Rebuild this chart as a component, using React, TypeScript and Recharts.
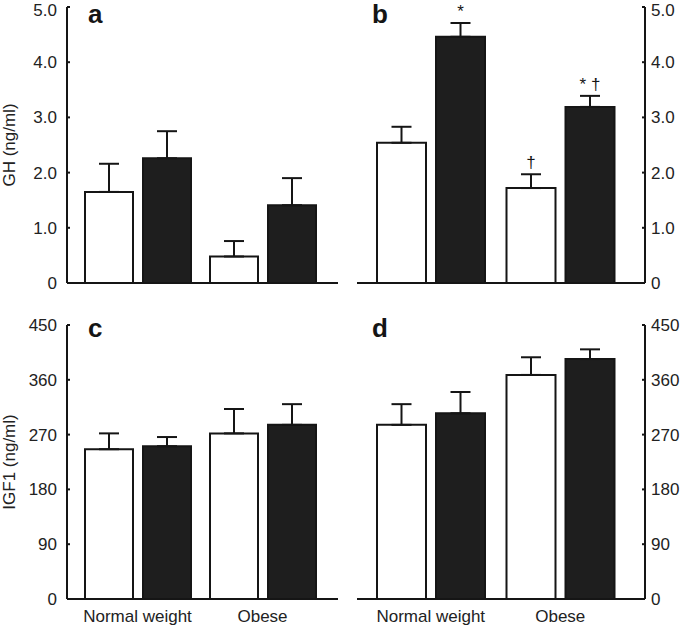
import React from 'react';
import { BarChart, Bar, XAxis, YAxis, ErrorBar, LabelList } from 'recharts';

// ---------- data ----------
const groups = ['Normal weight', 'Obese'];

// panel a: GH (ng/ml)
const ghA_open = [1.65, 0.48];
const ghA_openErr = [0.51, 0.28];
const ghA_filled = [2.26, 1.41];
const ghA_filledErr = [0.49, 0.49];

// panel b: GH (ng/ml)
const ghB_open = [2.54, 1.72];
const ghB_openErr = [0.29, 0.25];
const ghB_filled = [4.46, 3.19];
const ghB_filledErr = [0.25, 0.2];
const ghB_openNotes = ['', '†'];
const ghB_filledNotes = ['*', '* †'];

// panel c: IGF1 (ng/ml)
const igfC_open = [246, 272];
const igfC_openErr = [26, 40];
const igfC_filled = [251, 286];
const igfC_filledErr = [15, 34];

// panel d: IGF1 (ng/ml)
const igfD_open = [286, 368];
const igfD_openErr = [34, 29];
const igfD_filled = [305, 394];
const igfD_filledErr = [35, 16];

const ghTicks = [0, 1, 2, 3, 4, 5];
const igfTicks = [0, 90, 180, 270, 360, 450];

const noNotes = ['', ''];

function buildRows(open: number[], openErr: number[], filled: number[], filledErr: number[], openNotes: string[], filledNotes: string[]) {
  return groups.map((g, i) => ({
    group: g,
    open: open[i],
    openErr: [0, openErr[i]],
    filled: filled[i],
    filledErr: [0, filledErr[i]],
    openNote: openNotes[i],
    filledNote: filledNotes[i],
  }));
}

const rowsA = buildRows(ghA_open, ghA_openErr, ghA_filled, ghA_filledErr, noNotes, noNotes);
const rowsB = buildRows(ghB_open, ghB_openErr, ghB_filled, ghB_filledErr, ghB_openNotes, ghB_filledNotes);
const rowsC = buildRows(igfC_open, igfC_openErr, igfC_filled, igfC_filledErr, noNotes, noNotes);
const rowsD = buildRows(igfD_open, igfD_openErr, igfD_filled, igfD_filledErr, noNotes, noNotes);

// ---------- styles ----------
const FONT = '"Liberation Sans", Arial, Helvetica, sans-serif';
const INK = '#151515';
const FILL_DARK = '#1e1e1e';
const tickStyle = { fontSize: 17, fill: '#222', fontFamily: FONT };

const ghFmt = (v: number) => (v === 0 ? '0' : v.toFixed(1));
const igfFmt = (v: number) => String(v);

function makeNote(rows: any[], meanKey: string, errKey: string) {
  return (props: any) => {
    const { value, index } = props;
    if (!value) return null;
    const x = Number(props.x);
    const y = Number(props.y);
    const width = Number(props.width);
    const height = Number(props.height);
    const r = rows[index];
    const pxPerUnit = height / r[meanKey];
    const top = y - r[errKey][1] * pxPerUnit;
    return (
      <text x={x + width / 2} y={top - 6} textAnchor="middle" fontSize={17} fontFamily={FONT} fill={INK}>
        {value}
      </text>
    );
  };
}

function yLabel(text: string) {
  return (props: any) => {
    const vb = props.viewBox || {};
    const cx = 15;
    const cy = Number(vb.y) + Number(vb.height) / 2;
    return (
      <text
        x={cx}
        y={cy}
        transform={`rotate(-90, ${cx}, ${cy})`}
        textAnchor="middle"
        fontSize={17}
        fontFamily={FONT}
        fill="#222"
      >
        {text}
      </text>
    );
  };
}

type PanelProps = {
  rows: any[];
  left: number;
  top: number;
  width: number;
  height: number;
  side: 'left' | 'right';
  domain: [number, number];
  ticks: number[];
  fmt: (v: number) => string;
  showX: boolean;
  marginTop: number;
  marginLeft: number;
  marginRight: number;
  xHeight: number;
  padL: number;
  padR: number;
  barSize: number;
  label?: string;
};

function Panel(p: PanelProps) {
  return (
    <div style={{ position: 'absolute', left: p.left, top: p.top }}>
      <BarChart
        width={p.width}
        height={p.height}
        data={p.rows}
        margin={{ top: p.marginTop, right: p.marginRight, left: p.marginLeft, bottom: 0 }}
        barGap={10}
        barSize={p.barSize}
      >
        <XAxis
          dataKey="group"
          height={p.xHeight}
          padding={{ left: p.padL, right: p.padR }}
          axisLine={{ stroke: INK, strokeWidth: 2 }}
          tickLine={false}
          tickSize={0}
          tickMargin={11}
          tick={p.showX ? tickStyle : false}
          interval={0}
        />
        <YAxis
          orientation={p.side}
          width={p.side === 'left' ? 67 : 40}
          domain={p.domain}
          ticks={p.ticks}
          tickFormatter={p.fmt}
          allowDataOverflow
          axisLine={{ stroke: INK, strokeWidth: 2 }}
          tickLine={{ stroke: INK, strokeWidth: 2 }}
          tickSize={-3}
          tickMargin={p.side === 'left' ? 13 : 9}
          tick={tickStyle}
          label={p.label ? { content: yLabel(p.label) } : undefined}
        />
        <Bar dataKey="open" fill="#ffffff" stroke={INK} strokeWidth={2} isAnimationActive={false}>
          <ErrorBar dataKey="openErr" direction="y" width={10} stroke={INK} strokeWidth={2} />
          <LabelList dataKey="openNote" content={makeNote(p.rows, 'open', 'openErr')} />
        </Bar>
        <Bar dataKey="filled" fill={FILL_DARK} stroke={INK} strokeWidth={2} isAnimationActive={false}>
          <ErrorBar dataKey="filledErr" direction="y" width={10} stroke={INK} strokeWidth={2} />
          <LabelList dataKey="filledNote" content={makeNote(p.rows, 'filled', 'filledErr')} />
        </Bar>
      </BarChart>
    </div>
  );
}

const panelLetters = [
  { t: 'a', x: 88, y: 23 },
  { t: 'b', x: 372, y: 23 },
  { t: 'c', x: 88, y: 337 },
  { t: 'd', x: 372, y: 337 },
];

export default function App() {
  return (
    <div style={{ position: 'absolute', left: 0, top: 0, width: 685, height: 629, background: '#fff', overflow: 'hidden' }}>
      <Panel rows={rowsA} left={0} top={0} width={342} height={300} side="left" domain={[0, 5]} ticks={ghTicks} fmt={ghFmt}
        showX={false} marginTop={7} marginLeft={0} marginRight={4} xHeight={17} padL={8} padR={13} barSize={48} label="GH (ng/ml)" />
      <Panel rows={rowsB} left={340} top={0} width={345} height={300} side="right" domain={[0, 5]} ticks={ghTicks} fmt={ghFmt}
        showX={false} marginTop={7} marginLeft={17} marginRight={0} xHeight={17} padL={9} padR={20} barSize={49} />
      <Panel rows={rowsC} left={0} top={300} width={342} height={329} side="left" domain={[0, 450]} ticks={igfTicks} fmt={igfFmt}
        showX={true} marginTop={25} marginLeft={0} marginRight={4} xHeight={30} padL={8} padR={13} barSize={48} label="IGF1 (ng/ml)" />
      <Panel rows={rowsD} left={340} top={300} width={345} height={329} side="right" domain={[0, 450]} ticks={igfTicks} fmt={igfFmt}
        showX={true} marginTop={25} marginLeft={17} marginRight={0} xHeight={30} padL={9} padR={20} barSize={49} />
      <svg width={685} height={629} style={{ position: 'absolute', left: 0, top: 0, pointerEvents: 'none' }}>
        {panelLetters.map((l) => (
          <text key={l.t} x={l.x} y={l.y} fontSize={26} fontWeight="bold" fontFamily={FONT} fill={INK}>
            {l.t}
          </text>
        ))}
      </svg>
    </div>
  );
}
